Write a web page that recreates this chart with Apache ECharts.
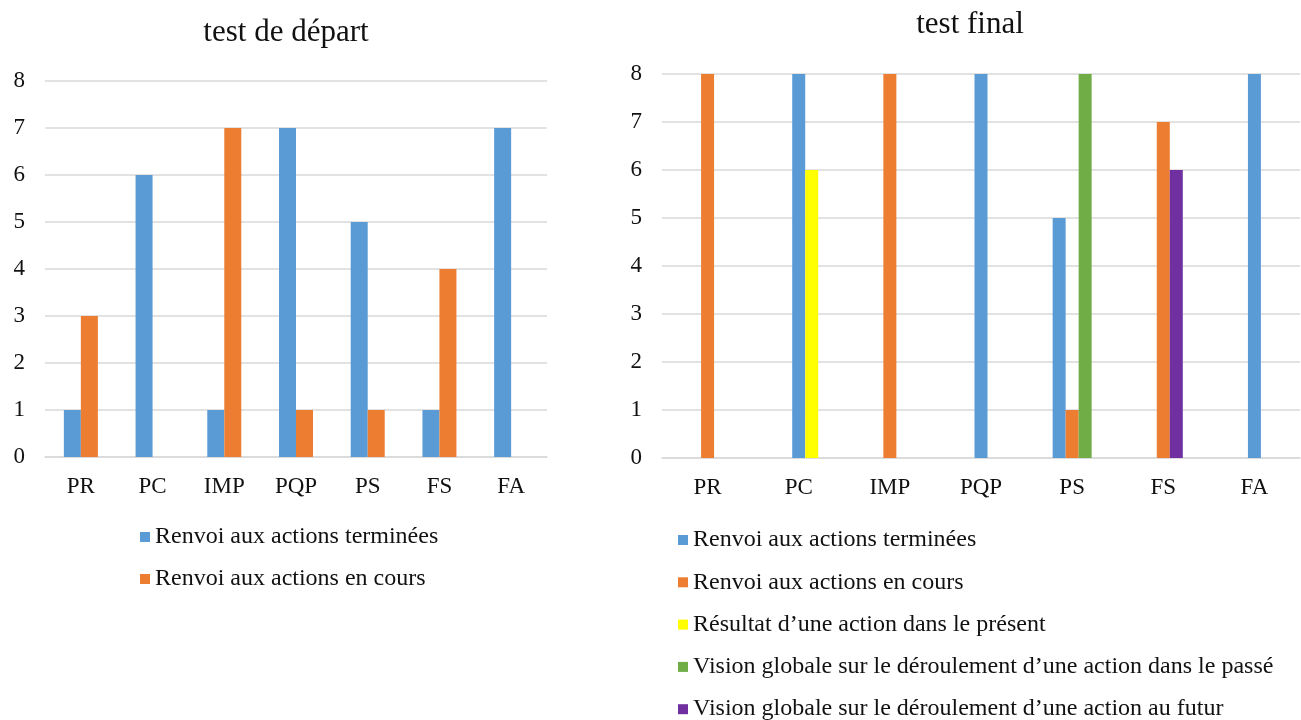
<!DOCTYPE html>
<html>
<head>
<meta charset="utf-8">
<script src="https://cdn.jsdelivr.net/npm/echarts@6/dist/echarts.min.js"></script>
<style>
  html, body { margin: 0; padding: 0; background: #fff; }
  #chart { width: 1301px; height: 720px; }
</style>
</head>
<body>
<div id="chart"></div>
<script>
const categories = ['PR', 'PC', 'IMP', 'PQP', 'PS', 'FS', 'FA']
const yTicks = [0, 1, 2, 3, 4, 5, 6, 7, 8]

// test de départ
const departTerminees = [1, 6, 1, 7, 5, 1, 7]
const departEnCours = [3, 0, 7, 1, 1, 4, 0]

// test final
const finalTerminees = [0, 8, 0, 8, 5, 0, 8]
const finalEnCours = [8, 0, 8, 0, 1, 7, 0]
const finalResultat = [0, 6, 0, 0, 0, 0, 0]
const finalPasse = [0, 0, 0, 0, 8, 0, 0]
const finalFutur = [0, 0, 0, 0, 0, 6, 0]

const names = [
  'Renvoi aux actions terminées',
  'Renvoi aux actions en cours',
  'Résultat d’une action dans le présent',
  'Vision globale sur le déroulement d’une action dans le passé',
  'Vision globale sur le déroulement d’une action au futur'
]
const colors = ['#5B9BD5', '#ED7D31', '#FFFF00', '#70AD47', '#7030A0']

const font = "'Liberation Serif', 'Times New Roman', serif"
const textColor = '#111'
const gridColor = '#D9D9D9'

// in the final chart the bars of a category sit side by side, only the non-zero ones
const finalData = [finalTerminees, finalEnCours, finalResultat, finalPasse, finalFutur]
const slots = [0, 1, 2].map(() => categories.map(() => '-'))
categories.forEach((c, i) => {
  const present = []
  finalData.forEach((arr, s) => { if (arr[i] > 0) present.push(s) })
  const start = -Math.floor((present.length - 1) / 2)
  present.forEach((s, k) => {
    slots[start + k + 1][i] = { value: finalData[s][i], itemStyle: { color: colors[s] } }
  })
})

const yAxisBase = (gridIndex) => ({
  type: 'value',
  gridIndex,
  min: yTicks[0],
  max: yTicks[yTicks.length - 1],
  interval: 1,
  axisLine: { show: false },
  axisTick: { show: false },
  axisLabel: { fontFamily: font, fontSize: 23, color: textColor, margin: 20 },
  splitLine: { lineStyle: { color: gridColor, width: 1.5 } }
})

const xAxisBase = (gridIndex) => ({
  type: 'category',
  gridIndex,
  data: categories,
  axisTick: { show: false },
  axisLine: { lineStyle: { color: gridColor, width: 1.5 } },
  axisLabel: { fontFamily: font, fontSize: 23, color: textColor, margin: 18 }
})

const legendBase = {
  orient: 'vertical',
  padding: 0,
  height: 260,
  icon: 'rect',
  itemWidth: 10,
  itemHeight: 10,
  textStyle: { fontFamily: font, fontSize: 24, color: textColor }
}

const chart = echarts.init(document.getElementById('chart'))
chart.setOption({
  animation: false,
  graphic: [
    {
      type: 'text',
      x: 286,
      y: 33,
      style: { text: 'test de départ', font: '31px ' + font, fill: textColor, align: 'center', verticalAlign: 'middle' }
    },
    {
      type: 'text',
      x: 970,
      y: 25,
      style: { text: 'test final', font: '31px ' + font, fill: textColor, align: 'center', verticalAlign: 'middle' }
    }
  ],
  grid: [
    { left: 45, top: 81, width: 502, height: 376 },
    { left: 662, top: 74, width: 638, height: 384 }
  ],
  xAxis: [xAxisBase(0), xAxisBase(1)],
  yAxis: [yAxisBase(0), yAxisBase(1)],
  legend: [
    Object.assign({}, legendBase, {
      left: 140,
      top: 525,
      itemGap: 18,
      data: names.slice(0, 2)
    }),
    Object.assign({}, legendBase, {
      left: 678,
      top: 528,
      itemGap: 18.3,
      data: names.map((n, i) => ({ name: n, itemStyle: { color: colors[i] } }))
    })
  ],
  series: [
    {
      name: names[0],
      type: 'bar',
      xAxisIndex: 0,
      yAxisIndex: 0,
      barWidth: 17,
      barGap: 0,
      itemStyle: { color: colors[0] },
      data: departTerminees
    },
    {
      name: names[1],
      type: 'bar',
      xAxisIndex: 0,
      yAxisIndex: 0,
      barWidth: 17,
      barGap: 0,
      itemStyle: { color: colors[1] },
      data: departEnCours
    },
    ...slots.map((data, k) => ({
      name: 'slot' + k,
      type: 'bar',
      xAxisIndex: 1,
      yAxisIndex: 1,
      barWidth: 13,
      barGap: 0,
      data
    })),
    // legend-only entries for the three series that exist only in the final test
    ...[2, 3, 4].map((i) => ({
      name: names[i],
      type: 'line',
      xAxisIndex: 1,
      yAxisIndex: 1,
      color: colors[i],
      showSymbol: false,
      data: []
    }))
  ]
})
</script>
</body>
</html>
